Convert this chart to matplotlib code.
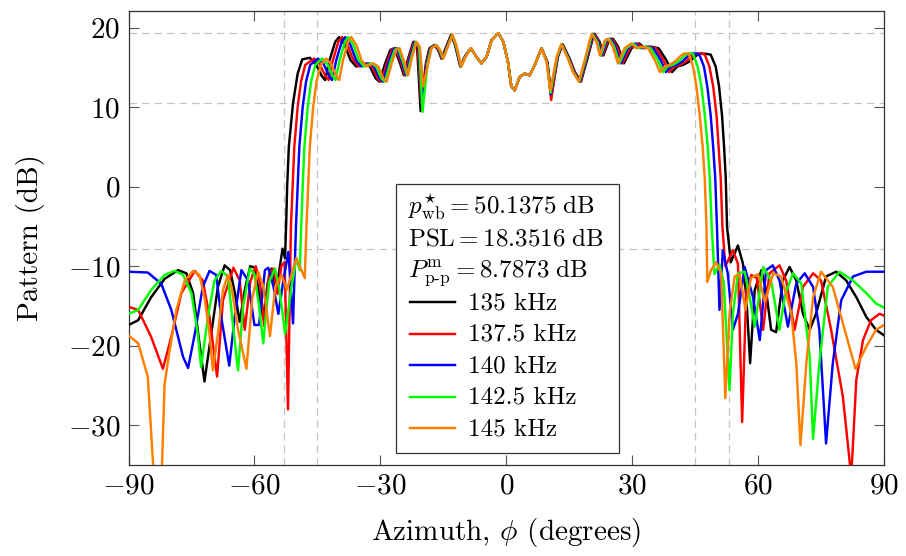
import numpy as np
import matplotlib
matplotlib.use('Agg')
import matplotlib.pyplot as plt
from matplotlib.patches import Rectangle
from matplotlib.lines import Line2D

plt.rcParams['font.family'] = 'serif'
plt.rcParams['font.serif'] = ['cmr10']
plt.rcParams['mathtext.fontset'] = 'cm'
plt.rcParams['axes.formatter.use_mathtext'] = True

# beam pattern samples (azimuth deg, pattern dB) for each frequency
core = [(-8.4, 17.4), (-7.1, 16.3), (-5.9, 15.5), (-4.7, 16.3), (-3.5, 18.4), (-1.9, 19.3),
        (-0.7, 18.2), (0.4, 15.7), (1.2, 12.6), (2.0, 12.1), (3.2, 13.8), (4.4, 14.2),
        (5.6, 14.0), (6.8, 15.3), (8.4, 17.4)]

f135_left = [(-90, -17.4), (-87.7, -16.8), (-84.6, -13.9), (-81.4, -11.6), (-78.2, -10.5), (-76.2, -10.9),
             (-74.6, -13.4), (-73.1, -19.7), (-71.9, -24.5), (-70.3, -18.5), (-68.7, -12.6), (-67.1, -9.9),
             (-65.8, -10.5), (-64.6, -13.5), (-63.5, -17.0), (-62.3, -13.0), (-61.0, -10.0), (-59.9, -10.2),
             (-58.9, -13.5), (-57.9, -16.5), (-56.8, -12.0), (-55.9, -10.3), (-55.0, -12.5), (-54.2, -11.0),
             (-53.3, -7.8), (-52.7, -9.0), (-52.4, -4.0), (-52.2, 0.0), (-51.8, 5.0), (-50.8, 10.5),
             (-49.7, 14.2), (-48.6, 16.0), (-46.8, 16.2), (-45.35, 15.4), (-43.95, 13.9), (-43.15, 13.4),
             (-42.1, 15.9), (-40.75, 18.2), (-39.85, 18.8), (-38.5, 17.8), (-37.1, 15.9), (-35.75, 15.1),
             (-33.9, 15.5), (-32.5, 15.1), (-31.1, 13.6), (-30.2, 13.2), (-28.85, 15.5), (-27.6, 17.2),
             (-26.65, 17.4), (-25.3, 15.5), (-24.4, 14.0), (-23.5, 15.9), (-22.15, 18.2), (-21.25, 17.6),
             (-20.4, 9.5), (-19.15, 15.5), (-18.3, 17.4), (-17.1, 17.8), (-16.25, 17.2), (-15.45, 16.1),
             (-14.3, 17.6), (-13.15, 19.1), (-12.2, 17.8), (-10.95, 15.1), (-9.7, 16.5)]
f135_right = [(9.8, 15.7), (10.75, 11.4), (12.3, 16.3), (13.45, 17.9), (15.1, 16.1), (16.35, 14.4),
              (17.8, 13.2), (19.25, 15.9), (20.5, 18.4), (21.05, 19.2), (22.25, 18.2), (23.15, 16.5),
              (24.5, 18.4), (25.4, 18.6), (26.65, 17.6), (28.05, 15.5), (29.85, 17.4), (31.65, 18.0),
              (33.1, 17.4), (34.5, 17.6), (36.3, 17.4), (38.15, 15.9), (39.5, 14.4), (40.75, 15.1),
              (42.1, 15.3), (43.55, 15.7), (45.35, 16.5), (46.3, 16.75), (47.5, 16.7), (48.7, 16.6),
              (49.9, 15.1), (50.7, 12.6), (51.4, 9.0), (51.9, 5.0), (52.3, 1.0), (52.6, -5.0),
              (53.5, -9.5), (55.2, -7.4), (56.4, -9.7), (57.2, -13.9), (58.1, -22.2), (59.2, -13.0),
              (60.8, -10.5), (61.9, -13.0), (63.1, -18.0), (64.3, -18.3), (65.9, -11.8), (67.5, -10.1),
              (69.1, -11.8), (70.7, -16.0), (72.3, -18.0), (73.8, -16.0), (76.2, -11.3), (78.6, -10.7),
              (81.0, -11.8), (83.4, -13.9), (85.8, -16.4), (88.1, -18.0), (90, -18.7)]

f137_left = [(-90, -15.1), (-87.7, -15.5), (-84.6, -18.9), (-81.8, -22.9), (-79.8, -18.9), (-77.4, -13.4),
             (-74.2, -10.6), (-72.3, -11.8), (-70.7, -16.4), (-68.9, -23.9), (-67.5, -14.3), (-65.0, -10.2),
             (-63.5, -11.8), (-62.3, -18.0), (-61.0, -12.0), (-59.7, -10.0), (-58.7, -12.0), (-57.7, -17.5),
             (-56.5, -11.0), (-55.5, -10.3), (-54.5, -13.5), (-53.6, -10.0), (-52.8, -9.5), (-52.0, -28.0),
             (-51.3, -5.0), (-50.9, 0.0), (-50.5, 5.0), (-49.7, 10.0), (-48.9, 13.2), (-47.9, 15.3),
             (-45.8, 16.1), (-44.45, 15.4), (-43.1, 13.9), (-42.3, 13.4), (-41.3, 15.9), (-40.0, 18.2),
             (-39.1, 18.8), (-37.8, 17.8), (-36.45, 15.9), (-35.15, 15.1), (-33.35, 15.5), (-32.0, 15.1),
             (-30.65, 13.6), (-29.8, 13.2), (-28.45, 15.5), (-27.25, 17.2), (-26.35, 17.4), (-25.0, 15.5),
             (-24.15, 14.0), (-23.3, 15.9), (-21.95, 18.2), (-21.1, 17.6), (-20.25, 10.5), (-19.0, 15.5),
             (-18.2, 17.4), (-17.0, 17.8), (-16.15, 17.2), (-15.35, 16.1), (-14.2, 17.6), (-13.05, 19.1),
             (-12.1, 17.8), (-10.9, 15.1), (-9.65, 16.5)]
f137_right = [(9.75, 15.7), (10.7, 10.9), (12.2, 16.3), (13.35, 17.9), (15.0, 16.1), (16.25, 14.4),
              (17.7, 13.2), (19.1, 15.9), (20.35, 18.4), (20.9, 19.2), (22.05, 18.2), (22.95, 16.5),
              (24.25, 18.4), (25.1, 18.6), (26.35, 17.6), (27.7, 15.5), (29.45, 17.4), (31.2, 18.0),
              (32.6, 17.4), (33.9, 17.6), (35.7, 17.4), (37.45, 15.9), (38.8, 14.4), (40.0, 15.1),
              (41.3, 15.3), (42.7, 15.7), (44.45, 16.5), (45.35, 16.75), (46.5, 16.7), (47.3, 16.6),
              (48.4, 15.1), (49.3, 12.6), (50.1, 9.0), (50.6, 5.0), (51.1, 1.0), (51.5, -5.0),
              (52.2, -10.0), (54.0, -8.0), (55.2, -9.7), (56.2, -29.6), (57.2, -13.0), (58.4, -11.1),
              (59.7, -11.5), (61.2, -18.0), (62.7, -10.9), (65.1, -9.9), (66.7, -11.8), (68.7, -18.0),
              (70.7, -12.6), (73.1, -10.9), (75.0, -11.8), (77.4, -18.0), (80.2, -26.4), (82.2, -36.5),
              (83.4, -24.3), (85.0, -19.3), (86.9, -16.8), (88.9, -16.0), (90, -16.2)]

f140_left = [(-90, -10.7), (-85.4, -10.8), (-82.2, -12.2), (-79.8, -15.5), (-77.0, -21.4), (-75.8, -22.8),
             (-74.2, -18.5), (-72.3, -12.6), (-70.7, -10.6), (-69.1, -11.1), (-67.9, -16.4), (-66.0, -22.5),
             (-64.6, -16.0), (-63.1, -10.5), (-61.5, -11.8), (-60.0, -17.4), (-58.9, -17.4), (-57.5, -10.5),
             (-56.7, -10.2), (-55.5, -12.5), (-54.3, -16.0), (-53.1, -11.8), (-51.9, -8.2), (-50.8, -17.2),
             (-50.1, -5.0), (-49.7, 0.0), (-49.3, 5.0), (-48.5, 10.0), (-47.7, 13.2), (-46.7, 15.3),
             (-44.85, 16.1), (-43.5, 15.4), (-42.2, 13.9), (-41.5, 13.4), (-40.5, 15.9), (-39.2, 18.2),
             (-38.4, 18.8), (-37.1, 17.8), (-35.8, 15.9), (-34.5, 15.1), (-32.8, 15.5), (-31.5, 15.1),
             (-30.2, 13.6), (-29.35, 13.2), (-28.1, 15.5), (-26.9, 17.2), (-26.0, 17.4), (-24.75, 15.5),
             (-23.9, 14.0), (-23.05, 15.9), (-21.8, 18.2), (-20.9, 17.6), (-20.1, 10.5), (-18.9, 15.5),
             (-18.05, 17.4), (-16.85, 17.8), (-16.0, 17.2), (-15.2, 16.1), (-14.1, 17.6), (-12.95, 19.1),
             (-12.05, 17.8), (-10.8, 15.1), (-9.6, 16.5)]
f140_right = [(9.7, 15.7), (10.6, 11.6), (12.15, 16.3), (13.3, 17.9), (14.9, 16.1), (16.1, 14.4),
              (17.55, 13.2), (19.0, 15.9), (20.2, 18.4), (20.7, 19.2), (21.9, 18.2), (22.7, 16.5),
              (24.0, 18.4), (24.85, 18.6), (26.0, 17.6), (27.3, 15.5), (29.0, 17.4), (30.7, 18.0),
              (32.05, 17.4), (33.35, 17.6), (35.05, 17.4), (36.8, 15.9), (38.05, 14.4), (39.2, 15.1),
              (40.5, 15.3), (41.85, 15.7), (43.5, 16.5), (44.4, 16.75), (45.5, 16.7), (46.0, 16.6),
              (47.1, 15.1), (47.9, 12.6), (48.7, 9.0), (49.3, 5.0), (49.8, 1.0), (50.2, -5.0),
              (50.8, -15.5), (51.6, -8.0), (52.8, -11.0), (54.0, -18.0), (55.2, -16.0), (56.8, -10.1),
              (58.8, -13.9), (60.4, -19.3), (61.9, -10.5), (63.5, -9.9), (65.1, -11.8), (67.1, -17.6),
              (69.1, -12.2), (71.1, -10.9), (73.1, -12.6), (74.6, -18.0), (76.2, -32.3), (77.8, -22.2),
              (79.8, -14.3), (82.6, -11.3), (85.8, -10.7), (90, -10.7)]

f142_left = [(-90, -16.0), (-87.7, -15.5), (-84.6, -13.0), (-81.4, -11.1), (-79.0, -10.6), (-77.0, -11.1),
             (-75.0, -13.4), (-73.5, -18.5), (-72.7, -22.7), (-71.1, -16.4), (-69.5, -11.8), (-67.9, -10.6),
             (-66.3, -11.3), (-65.0, -18.0), (-63.9, -23.1), (-62.7, -15.1), (-61.1, -10.3), (-60.0, -11.0),
             (-58.9, -15.0), (-57.9, -19.7), (-56.5, -12.0), (-55.1, -10.3), (-54.0, -13.0), (-52.7, -18.5),
             (-51.1, -12.4), (-50.0, -9.0), (-49.2, -10.5), (-48.85, -5.0), (-48.5, 0.0), (-48.1, 5.0),
             (-47.3, 10.0), (-46.5, 13.2), (-45.5, 15.3), (-43.9, 16.1), (-42.6, 15.4), (-41.35, 13.9),
             (-40.65, 13.4), (-39.7, 15.9), (-38.45, 18.2), (-37.65, 18.8), (-36.4, 17.8), (-35.15, 15.9),
             (-33.9, 15.1), (-32.25, 15.5), (-31.0, 15.1), (-29.75, 13.6), (-28.9, 13.2), (-27.7, 15.5),
             (-26.55, 17.2), (-25.7, 17.4), (-24.5, 15.5), (-23.65, 14.0), (-22.8, 15.9), (-21.6, 18.2),
             (-20.75, 17.6), (-19.95, 9.4), (-18.75, 15.5), (-17.9, 17.4), (-16.7, 17.8), (-15.9, 17.2),
             (-15.1, 16.1), (-14.0, 17.6), (-12.9, 19.1), (-12.0, 17.8), (-10.75, 15.1), (-9.55, 16.5)]
f142_right = [(9.65, 15.7), (10.55, 11.8), (12.1, 16.3), (13.2, 17.9), (14.8, 16.1), (16.0, 14.4),
              (17.4, 13.2), (18.85, 15.9), (20.05, 18.4), (20.55, 19.2), (21.7, 18.2), (22.5, 16.5),
              (23.75, 18.4), (24.55, 18.6), (25.7, 17.6), (26.95, 15.5), (28.6, 17.4), (30.25, 18.0),
              (31.5, 17.4), (32.75, 17.6), (34.4, 17.4), (36.1, 15.9), (37.3, 14.4), (38.45, 15.1),
              (39.65, 15.3), (40.95, 15.7), (42.6, 16.5), (43.45, 16.75), (44.5, 16.7), (45.6, 15.1),
              (46.5, 12.6), (47.3, 9.0), (48.0, 5.0), (48.5, 1.0), (48.95, -5.0), (49.6, -11.0),
              (50.8, -9.8), (51.8, -12.0), (53.2, -25.6), (54.0, -16.0), (55.2, -10.9), (56.8, -10.7),
              (58.0, -13.9), (59.2, -17.6), (61.2, -10.1), (63.1, -11.8), (65.1, -18.0), (66.5, -13.5),
              (68.3, -10.9), (70.3, -12.2), (72.3, -21.4), (73.1, -31.7), (74.6, -22.2), (76.6, -12.6),
              (79.4, -10.7), (82.6, -11.8), (85.8, -13.4), (88.1, -14.7), (90, -15.2)]

f145_left = [(-90, -18.7), (-87.7, -19.7), (-85.4, -23.9), (-83.8, -38.0), (-83.0, -45.0), (-82.2, -38.0),
             (-81.4, -24.8), (-80.2, -20.6), (-78.6, -15.5), (-76.6, -11.8), (-74.6, -10.6), (-73.1, -11.1),
             (-71.9, -13.9), (-70.7, -18.5), (-69.9, -23.1), (-68.7, -18.5), (-67.5, -13.0), (-66.3, -11.1),
             (-65.4, -12.8), (-63.9, -18.0), (-61.9, -22.9), (-60.5, -14.0), (-59.1, -10.7), (-57.9, -12.5),
             (-56.3, -18.8), (-55.0, -12.5), (-53.5, -11.1), (-52.3, -13.0), (-50.0, -9.0), (-48.0, -11.5),
             (-47.6, -5.0), (-47.2, 0.0), (-46.8, 5.0), (-46.0, 10.0), (-45.2, 13.2), (-44.2, 15.3),
             (-42.9, 16.1), (-41.7, 15.4), (-40.5, 13.9), (-39.8, 13.4), (-38.9, 15.9), (-37.7, 18.2),
             (-36.9, 18.8), (-35.7, 17.8), (-34.5, 15.9), (-33.3, 15.1), (-31.7, 15.5), (-30.5, 15.1),
             (-29.3, 13.6), (-28.5, 13.2), (-27.3, 15.5), (-26.2, 17.2), (-25.4, 17.4), (-24.2, 15.5),
             (-23.4, 14.0), (-22.6, 15.9), (-21.4, 18.2), (-20.6, 17.6), (-19.8, 12.6), (-18.6, 15.5),
             (-17.8, 17.4), (-16.6, 17.8), (-15.8, 17.2), (-15.0, 16.1), (-13.9, 17.6), (-12.8, 19.1),
             (-11.9, 17.8), (-10.7, 15.1), (-9.5, 16.5)]
f145_right = [(9.6, 15.7), (10.5, 12.1), (12.0, 16.3), (13.1, 17.9), (14.7, 16.1), (15.9, 14.4),
              (17.3, 13.2), (18.7, 15.9), (19.9, 18.4), (20.4, 19.2), (21.5, 18.2), (22.3, 16.5),
              (23.5, 18.4), (24.3, 18.6), (25.4, 17.6), (26.6, 15.5), (28.2, 17.4), (29.8, 18.0),
              (31.0, 17.4), (32.2, 17.6), (33.8, 17.4), (35.4, 15.9), (36.6, 14.4), (37.7, 15.1),
              (38.9, 15.3), (40.1, 15.7), (41.7, 16.5), (42.5, 16.75), (43.5, 16.7), (44.5, 15.1),
              (45.3, 12.6), (46.1, 9.0), (46.8, 5.0), (47.3, 1.0), (47.7, -5.0), (47.9, -12.0),
              (48.8, -10.5), (50.0, -9.5), (51.2, -10.9), (52.2, -26.6), (53.2, -16.0), (54.4, -11.3),
              (55.6, -11.0), (57.0, -15.5), (58.3, -11.5), (60.0, -11.0), (61.6, -14.5), (63.6, -10.9),
              (65.5, -11.3), (67.9, -15.9), (69.1, -22.2), (70.1, -32.5), (71.5, -22.2), (73.1, -13.9),
              (75.0, -10.7), (77.8, -12.6), (80.2, -17.2), (83.2, -22.9), (85.8, -20.1), (88.1, -18.0),
              (90, -17.4)]

freq_labels = ['135 kHz', '137.5 kHz', '140 kHz', '142.5 kHz', '145 kHz']
colors = ['black', '#ff0000', '#0000ff', '#00ff00', '#ff8000']
series = [f135_left + core + f135_right,
          f137_left + core + f137_right,
          f140_left + core + f140_right,
          f142_left + core + f142_right,
          f145_left + core + f145_right]

# reference levels
p_max = 19.27
ripple_pp = 8.7873
psl = 18.3516
p_min = p_max - ripple_pp
sl_level = p_min - psl
ref_angles = [-53, -45, 45, 53]

fig = plt.figure(figsize=(9.06, 5.56), dpi=100)
ax = fig.add_axes([128.5 / 906, 91 / 556, 755.5 / 906, 454 / 556])

for a in ref_angles:
    ax.axvline(a, color='#c4c4c4', lw=0.9, ls=(0, (6, 4)), zorder=1)
for lvl in [p_max, p_min, sl_level]:
    ax.axhline(lvl, color='#c4c4c4', lw=0.9, ls=(0, (6, 4)), zorder=1)

for k, (s, c) in enumerate(zip(series, colors)):
    phi, db = np.array(s).T
    ax.plot(phi, db, color=c, lw=1.75, zorder=3 + k)

ax.set_xlim(-90, 90)
ax.set_ylim(-35, 22.08)
ax.set_xticks(np.arange(-90, 91, 30))
ax.set_yticks([-30, -20, -10, 0, 10, 20])
ax.tick_params(direction='in', length=7, width=0.8, color='#555555',
               top=True, right=True, labelsize=21, pad=6)
for sp in ax.spines.values():
    sp.set_color('#333333')
    sp.set_linewidth(0.9)
ax.set_xlabel(r'Azimuth, $\phi$ (degrees)', fontsize=21, labelpad=12)
ax.set_ylabel('Pattern (dB)', fontsize=21, labelpad=16)

# legend box with metrics and frequency entries
ax.add_patch(Rectangle((0.354, 0.026), 0.295, 0.592, transform=ax.transAxes,
                       facecolor='white', edgecolor='#333333', lw=0.9, zorder=20))
info = [r'$p^{\star}_{\mathrm{wb}} = 50.1375\ \mathrm{dB}$',
        r'$\mathrm{PSL} = 18.3516\ \mathrm{dB}$',
        r'$P^{\mathrm{m}}_{\text{p-p}} = 8.7873\ \mathrm{dB}$']
for i, t in enumerate(info):
    ax.text(0.370, 0.554 - i * 0.0695, t, transform=ax.transAxes, fontsize=18,
            va='baseline', ha='left', zorder=21)
for i, (lab, c) in enumerate(zip(freq_labels, colors)):
    yb = 0.343 - i * 0.0693
    ax.add_line(Line2D([0.3726, 0.432], [yb + 0.015, yb + 0.015], transform=ax.transAxes,
                       color=c, lw=1.75, zorder=21))
    ax.text(0.449, yb, lab, transform=ax.transAxes, fontsize=18,
            va='baseline', ha='left', zorder=21)

fig.savefig('out.png', dpi=100)
